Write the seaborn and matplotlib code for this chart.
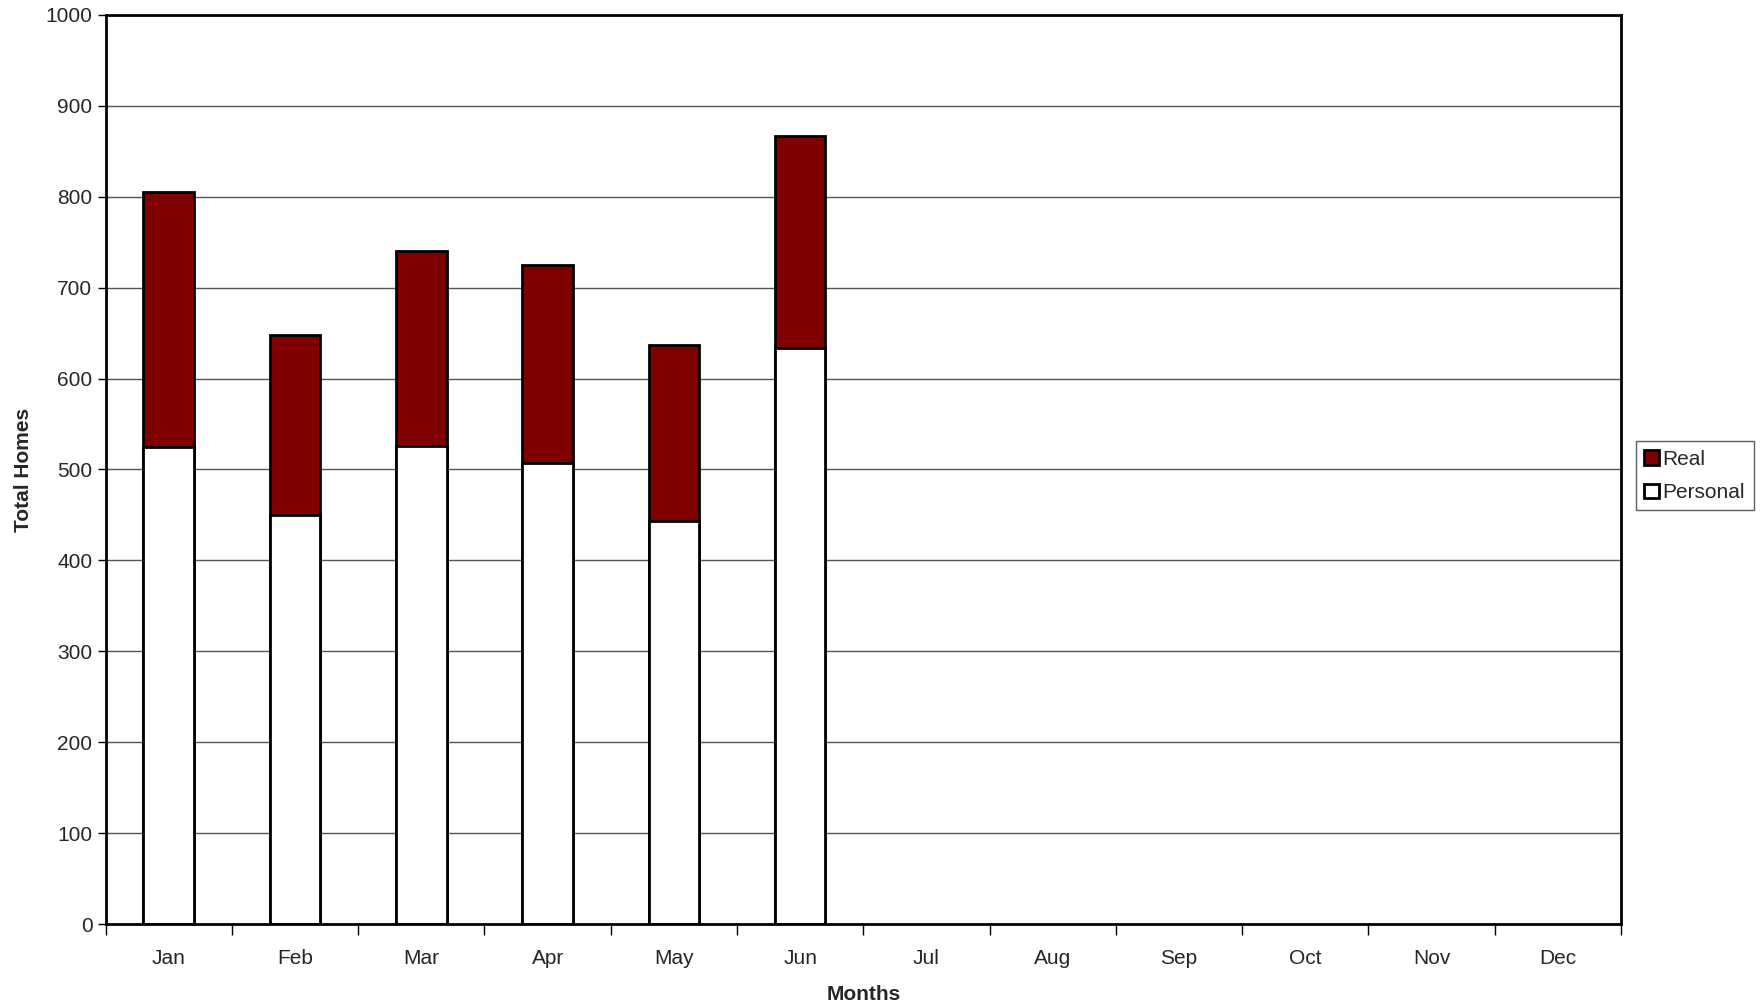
import pandas as pd
import numpy as np
import seaborn as sns
import matplotlib.pyplot as plt
from matplotlib.patches import Patch

months = ['Jan', 'Feb', 'Mar', 'Apr', 'May', 'Jun', 'Jul', 'Aug', 'Sep', 'Oct', 'Nov', 'Dec']
data_months = ['Jan', 'Feb', 'Mar', 'Apr', 'May', 'Jun']
personal = [525, 450, 526, 507, 443, 634]
real = [280, 198, 214, 218, 194, 233]

sns.set_style('white')
plt.rcParams['font.family'] = ['Liberation Sans', 'DejaVu Sans']

data = pd.DataFrame({'month': data_months, 'personal': personal, 'real': real})
data['total'] = data['personal'] + data['real']

fig = plt.figure(figsize=(17.63, 10.05), dpi=100)
ax = fig.add_axes([105.6 / 1763, 1 - 924 / 1005, (1621 - 105.6) / 1763, (924 - 15) / 1005])

sns.barplot(x='month', y='total', data=data, order=months, color='#800000',
            width=0.4, edgecolor='black', linewidth=2, saturation=1, ax=ax)
sns.barplot(x='month', y='personal', data=data, order=months, color='white',
            width=0.4, edgecolor='black', linewidth=2, saturation=1, ax=ax)

ax.set_xlim(-0.5, 11.5)
ax.set_ylim(0, 1000)
ax.set_yticks(np.arange(0, 1001, 100))
ax.yaxis.grid(True, color='#555555', linewidth=1)
ax.set_axisbelow(True)

# ticks on boundaries between months, labels centred
ax.set_xticks(np.arange(-0.5, 12, 1))
ax.set_xticklabels([])
ax.set_xticks(np.arange(12), minor=True)
ax.set_xticklabels(months, minor=True, fontsize=15)
ax.tick_params(axis='x', which='major', direction='out', length=8, width=1, color='black', bottom=True)
ax.tick_params(axis='x', which='minor', length=0, pad=18)
ax.tick_params(axis='y', direction='out', length=6, width=1, color='black', left=True, labelsize=15)

for s in ax.spines.values():
    s.set_color('black')
    s.set_linewidth(2)

ax.set_xlabel('Months', fontsize=15, fontweight='bold', labelpad=12)
ax.set_ylabel('Total Homes', fontsize=15, fontweight='bold', labelpad=9)

handles = [Patch(facecolor='#800000', edgecolor='black', linewidth=2, label='Real'),
           Patch(facecolor='white', edgecolor='black', linewidth=2, label='Personal')]
leg = ax.legend(handles=handles, loc='center left', bbox_to_anchor=(1.0055, 0.493), fontsize=15,
                frameon=True, fancybox=False, edgecolor='#333333', handlelength=0.7,
                handleheight=0.7, handletextpad=0.2, borderpad=0.4, borderaxespad=0.3,
                labelspacing=0.7)
leg.get_frame().set_linewidth(1)

fig.savefig('out.png', dpi=100)
